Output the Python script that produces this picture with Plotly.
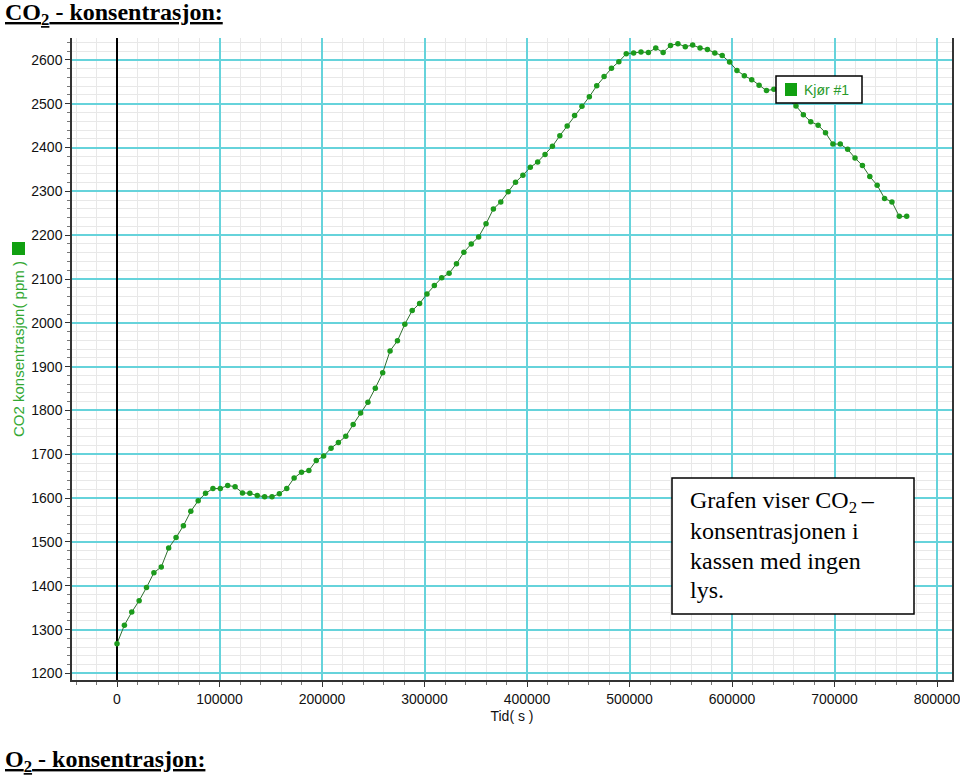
import plotly.graph_objects as go

# Measurement times (s), one reading every two hours
tid = [
    0, 7200, 14400, 21600, 28800, 36000, 43200, 50400, 57600, 64800, 72000, 79200,
    86400, 93600, 100800, 108000, 115200, 122400, 129600, 136800, 144000, 151200, 158400, 165600,
    172800, 180000, 187200, 194400, 201600, 208800, 216000, 223200, 230400, 237600, 244800, 252000,
    259200, 266400, 273600, 280800, 288000, 295200, 302400, 309600, 316800, 324000, 331200, 338400,
    345600, 352800, 360000, 367200, 374400, 381600, 388800, 396000, 403200, 410400, 417600, 424800,
    432000, 439200, 446400, 453600, 460800, 468000, 475200, 482400, 489600, 496800, 504000, 511200,
    518400, 525600, 532800, 540000, 547200, 554400, 561600, 568800, 576000, 583200, 590400, 597600,
    604800, 612000, 619200, 626400, 633600, 640800, 648000, 655200, 662400, 669600, 676800, 684000,
    691200, 698400, 705600, 712800, 720000, 727200, 734400, 741600, 748800, 756000, 763200, 770400,
]

# CO2 readings (ppm)
co2 = [
    1268, 1310, 1340, 1366, 1396, 1430, 1443, 1486, 1510, 1537, 1570, 1594,
    1611, 1622, 1622, 1629, 1626, 1612, 1611, 1606, 1603, 1603, 1610, 1622,
    1646, 1659, 1663, 1686, 1696, 1714, 1727, 1741, 1768, 1794, 1819, 1851,
    1886, 1936, 1959, 1997, 2028, 2044, 2066, 2085, 2103, 2113, 2135, 2161,
    2180, 2196, 2226, 2260, 2276, 2299, 2321, 2337, 2355, 2367, 2384, 2403,
    2427, 2449, 2473, 2494, 2516, 2541, 2562, 2581, 2596, 2614, 2616, 2618,
    2617, 2627, 2617, 2633, 2637, 2630, 2634, 2627, 2624, 2616, 2610, 2595,
    2576, 2564, 2555, 2542, 2530, 2533, 2522, 2508, 2495, 2475, 2459, 2451,
    2434, 2408, 2408, 2396, 2376, 2359, 2334, 2314, 2284, 2276, 2243, 2243,
]

series_name = "Kjør #1"
x_title = "Tid( s )"
y_title = "CO2 konsentrasjon( ppm )"
note_lines = ["Grafen viser CO<sub>2</sub>\u2009\u2013", "konsentrasjonen i", "kassen med ingen", "lys."]

W, H = 960, 777
L, R, T, B = 72, 8, 38, 97     # plot area margins in px
PW, PH = W - L - R, H - T - B

GREEN = "#1c9b1c"
KEY_GREEN = "#11a011"
CYAN = "#66d3db"
SANS = "Liberation Sans, Arial, sans-serif"
SERIF = "Liberation Serif, Times New Roman, serif"


def px_x(x):
    """Pixel column -> paper x."""
    return (x - L) / PW


def px_y(y):
    """Pixel row -> paper y."""
    return (H - B - y) / PH


def paper_rect(x0, y0, x1, y1, **kw):
    """Rectangle given in page pixels."""
    fig.add_shape(type="rect", xref="paper", yref="paper",
                  x0=px_x(x0), x1=px_x(x1), y0=px_y(y1), y1=px_y(y0), **kw)


def paper_text(text, x, y, size, family, color="black", **kw):
    """Free text placed by page pixels (left edge, vertical middle)."""
    fig.add_annotation(text=text, xref="paper", yref="paper", x=px_x(x), y=px_y(y),
                       xanchor=kw.pop("xanchor", "left"), yanchor="middle",
                       showarrow=False, font=dict(family=family, size=size, color=color), **kw)


fig = go.Figure()

# the logged series
fig.add_trace(go.Scatter(
    x=tid, y=co2, mode="lines+markers", showlegend=False,
    line=dict(color="#2f6f2f", width=1),
    marker=dict(color=GREEN, size=5.5),
))

axis_common = dict(
    showline=True, linecolor="#333333", linewidth=1.5,
    gridcolor=CYAN, gridwidth=2, automargin=False,
    ticks="outside", ticklen=5, tickcolor="#333333",
    ticklabeloverflow="allow",
    tickfont=dict(family=SANS, size=14, color="#111111"),
)


def minor(step):
    """Light grey minor grid, five per major division."""
    return dict(dtick=step, showgrid=True, gridcolor="#e8e8e8", gridwidth=1,
                ticks="outside", ticklen=3, tickcolor="#777777")


fig.update_xaxes(
    range=[-43900, 814600], dtick=100000, tickformat="d",
    zeroline=True, zerolinecolor="black", zerolinewidth=2,
    title=dict(text=x_title, font=dict(family=SANS, size=14, color="#111111"), standoff=6),
    minor=minor(20000),
    **axis_common,
)

fig.update_yaxes(
    range=[1185, 2650], dtick=100, mirror=True, zeroline=False,
    minor=minor(20),
    **axis_common,
)

# headings above and below the graph
paper_text("<b><u>CO<sub>2</sub> - konsentrasjon:</u></b>", 3, 14, 24, SERIF)
paper_text("<b><u>O<sub>2</sub> - konsentrasjon:</u></b>", 3, 761, 24, SERIF)

# green y-axis title with its colour key
paper_text(y_title, 18, 349, 15, SANS, color="#33a833", textangle=-90, xanchor="center")
paper_rect(12, 242, 25, 255, fillcolor=KEY_GREEN, line=dict(width=0))

# series key box in the upper right
paper_rect(776, 76, 862, 103, fillcolor="white", line=dict(color="black", width=1.5))
paper_rect(785, 83, 797, 96, fillcolor=KEY_GREEN, line=dict(width=0))
paper_text(series_name, 802, 90, 14, SANS, color="#2a9a2a")

# explanatory text box
paper_rect(672, 478, 914, 614, fillcolor="white", line=dict(color="black", width=1.5))
for i, line in enumerate(note_lines):
    paper_text(line, 688, 502 + i * 29.3, 24, SERIF)

fig.update_layout(
    width=W, height=H,
    margin=dict(l=L, r=R, t=T, b=B, autoexpand=False),
    paper_bgcolor="white", plot_bgcolor="white",
    showlegend=False,
)

# drop the page's default body margin so the chart sits at the window corner
fig.write_html("out.html", config={"displayModeBar": False},
               post_script="document.body.style.margin='0';")
